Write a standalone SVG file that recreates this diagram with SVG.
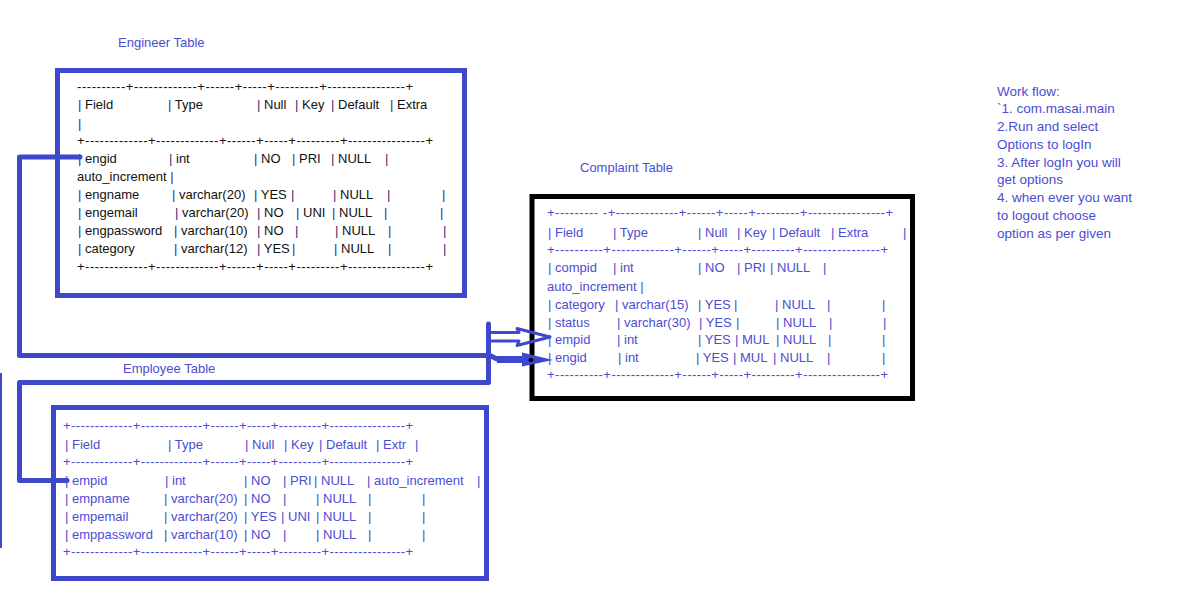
<svg xmlns="http://www.w3.org/2000/svg" width="1193" height="601" viewBox="0 0 1193 601">
  <style>
    .tb{font-family:"Liberation Sans",Arial,sans-serif;font-size:13px}
    .ttl{font-family:"Liberation Sans",Arial,sans-serif;font-size:13px;fill:#4b4dd2}
    .wf{font-family:"Liberation Sans",Arial,sans-serif;font-size:13.5px;fill:#4b4dd2}
    .blk{fill:#111}
    .pp{fill:#3b2378}
    .bl{fill:#4b4dd2}
    .frame{fill:none;stroke:#3f48cc;stroke-width:5}
    .frameK{fill:none;stroke:#000;stroke-width:5}
    .cn{fill:none;stroke:#3f48cc;stroke-width:5;stroke-linecap:round;stroke-linejoin:round}
  </style>
  <rect width="1193" height="601" fill="#fff"/>

  <!-- engineer table -->
  <g id="engineer">
    <text class="ttl" x="118" y="46.5">Engineer Table</text>
    <rect class="frame" x="57.5" y="70.5" width="407" height="225"/>
    <g class="tb blk">
      <text x="77" y="91" textLength="336" lengthAdjust="spacing">----------+-------------+------+-----+---------+----------------+</text>
      <text y="108.5"><tspan x="78"><tspan class="pp">|</tspan> Field</tspan><tspan x="168"><tspan class="pp">|</tspan> Type</tspan><tspan x="257"><tspan class="pp">|</tspan> Null </tspan><tspan x="295"><tspan class="pp">|</tspan> Key </tspan><tspan x="331"><tspan class="pp">|</tspan> Default </tspan><tspan x="390"><tspan class="pp">|</tspan> Extra</tspan></text>
      <text x="78" y="127.5" class="pp">|</text>
      <text x="77" y="144.5" textLength="356" lengthAdjust="spacing">+-------------+-------------+------+-----+---------+----------------+</text>
      <text y="162.5"><tspan x="78"><tspan class="pp">|</tspan> engid</tspan><tspan x="169"><tspan class="pp">|</tspan> int</tspan><tspan x="254"><tspan class="pp">|</tspan> NO</tspan><tspan x="292"><tspan class="pp">|</tspan> PRI</tspan><tspan x="331"><tspan class="pp">|</tspan> NULL</tspan><tspan x="385" class="pp">|</tspan></text>
      <text y="181"><tspan x="77">auto_increment </tspan><tspan class="pp">|</tspan></text>
      <text y="199"><tspan x="78"><tspan class="pp">|</tspan> engname</tspan><tspan x="172"><tspan class="pp">|</tspan> varchar(20)</tspan><tspan x="254"><tspan class="pp">|</tspan> YES</tspan><tspan x="291" class="pp">|</tspan><tspan x="333"><tspan class="pp">|</tspan> NULL</tspan><tspan x="387" class="pp">|</tspan><tspan x="442" class="pp">|</tspan></text>
      <text y="217"><tspan x="78"><tspan class="pp">|</tspan> engemail</tspan><tspan x="175"><tspan class="pp">|</tspan> varchar(20)</tspan><tspan x="257"><tspan class="pp">|</tspan> NO</tspan><tspan x="296"><tspan class="pp">|</tspan> UNI</tspan><tspan x="332"><tspan class="pp">|</tspan> NULL</tspan><tspan x="384" class="pp">|</tspan><tspan x="440" class="pp">|</tspan></text>
      <text y="235"><tspan x="78"><tspan class="pp">|</tspan> engpassword</tspan><tspan x="174"><tspan class="pp">|</tspan> varchar(10)</tspan><tspan x="257"><tspan class="pp">|</tspan> NO</tspan><tspan x="295" class="pp">|</tspan><tspan x="335"><tspan class="pp">|</tspan> NULL</tspan><tspan x="388" class="pp">|</tspan><tspan x="443" class="pp">|</tspan></text>
      <text y="253"><tspan x="78"><tspan class="pp">|</tspan> category</tspan><tspan x="174"><tspan class="pp">|</tspan> varchar(12)</tspan><tspan x="257"><tspan class="pp">|</tspan> YES</tspan><tspan x="292" class="pp">|</tspan><tspan x="334"><tspan class="pp">|</tspan> NULL</tspan><tspan x="388" class="pp">|</tspan><tspan x="443" class="pp">|</tspan></text>
      <text x="77" y="271" textLength="356" lengthAdjust="spacing">+-------------+-------------+------+-----+---------+----------------+</text>
    </g>
  </g>

  <!-- complaint table -->
  <g id="complaint">
    <text class="ttl" x="580" y="171.5">Complaint Table</text>
    <rect class="frameK" x="532" y="196.5" width="380.5" height="202"/>
    <g class="tb bl">
      <text x="547" y="217" textLength="346" lengthAdjust="spacing">+---------  -+-------------+------+-----+---------+----------------+</text>
      <text y="236.5"><tspan x="548">| Field</tspan><tspan x="613">| Type</tspan><tspan x="698">| Null</tspan><tspan x="737">| Key</tspan><tspan x="772">| Default</tspan><tspan x="831">| Extra</tspan><tspan x="903">|</tspan></text>
      <text x="547" y="254" textLength="341" lengthAdjust="spacing">+----------+-------------+------+-----+---------+----------------+</text>
      <text y="271.5"><tspan x="548">| compid</tspan><tspan x="613">| int</tspan><tspan x="698">| NO</tspan><tspan x="737">| PRI</tspan><tspan x="770">| NULL</tspan><tspan x="823">|</tspan></text>
      <text x="547" y="290.5">auto_increment |</text>
      <text y="308.5"><tspan x="548">| category</tspan><tspan x="615">| varchar(15)</tspan><tspan x="698">| YES</tspan><tspan x="734">|</tspan><tspan x="775">| NULL</tspan><tspan x="827">|</tspan><tspan x="882">|</tspan></text>
      <text y="326.5"><tspan x="548">| status</tspan><tspan x="617">| varchar(30)</tspan><tspan x="699">| YES</tspan><tspan x="736">|</tspan><tspan x="776">| NULL</tspan><tspan x="829">|</tspan><tspan x="883">|</tspan></text>
      <text y="344"><tspan x="548">| empid</tspan><tspan x="617">| int</tspan><tspan x="698">| YES</tspan><tspan x="735">| MUL</tspan><tspan x="776">| NULL</tspan><tspan x="828">|</tspan><tspan x="882">|</tspan></text>
      <text y="362"><tspan x="548">| engid</tspan><tspan x="618">| int</tspan><tspan x="696">| YES</tspan><tspan x="733">| MUL</tspan><tspan x="773">| NULL</tspan><tspan x="827">|</tspan><tspan x="882">|</tspan></text>
      <text x="547" y="379" textLength="341" lengthAdjust="spacing">+----------+-------------+------+-----+---------+----------------+</text>
    </g>
  </g>

  <!-- employee table -->
  <g id="employee">
    <text class="ttl" x="123" y="372.5">Employee Table</text>
    <rect class="frame" x="53.5" y="407.5" width="433" height="171"/>
    <g class="tb bl">
      <text x="63" y="430" textLength="350" lengthAdjust="spacing">+-------------+-------------+------+-----+---------+----------------+</text>
      <text y="448.5"><tspan x="65">| Field</tspan><tspan x="168">| Type</tspan><tspan x="245">| Null</tspan><tspan x="284">| Key</tspan><tspan x="319">| Default</tspan><tspan x="376">| Extr</tspan><tspan x="415">|</tspan></text>
      <text x="63" y="466" textLength="350" lengthAdjust="spacing">+-------------+-------------+------+-----+---------+----------------+</text>
      <text y="484.5"><tspan x="65">| empid</tspan><tspan x="165">| int</tspan><tspan x="244">| NO</tspan><tspan x="283">| PRI</tspan><tspan x="314">| NULL</tspan><tspan x="367">| auto_increment</tspan><tspan x="477">|</tspan></text>
      <text y="503"><tspan x="65">| empname</tspan><tspan x="164">| varchar(20)</tspan><tspan x="244">| NO</tspan><tspan x="283">|</tspan><tspan x="316">| NULL</tspan><tspan x="368">|</tspan><tspan x="422">|</tspan></text>
      <text y="521"><tspan x="65">| empemail</tspan><tspan x="164">| varchar(20)</tspan><tspan x="244">| YES</tspan><tspan x="281">| UNI</tspan><tspan x="316">| NULL</tspan><tspan x="368">|</tspan><tspan x="422">|</tspan></text>
      <text y="539"><tspan x="65">| emppassword</tspan><tspan x="164">| varchar(10)</tspan><tspan x="244">| NO</tspan><tspan x="283">|</tspan><tspan x="316">| NULL</tspan><tspan x="368">|</tspan><tspan x="422">|</tspan></text>
      <text x="63" y="556" textLength="350" lengthAdjust="spacing">+-------------+-------------+------+-----+---------+----------------+</text>
    </g>
  </g>

  <!-- work flow notes -->
  <g id="workflow">
    <text class="wf" x="997" y="95.5">Work flow:</text>
    <text class="wf" x="997" y="113.25">`1. com.masai.main</text>
    <text class="wf" x="997" y="131">2.Run and select</text>
    <text class="wf" x="997" y="148.75">Options to logIn</text>
    <text class="wf" x="997" y="166.5">3. After logIn you will</text>
    <text class="wf" x="997" y="184.25">get options</text>
    <text class="wf" x="997" y="202">4. when ever you want</text>
    <text class="wf" x="997" y="219.75">to logout choose</text>
    <text class="wf" x="997" y="237.5">option as per given</text>
  </g>

  <!-- foreign key connectors -->
  <g id="connectors">
    <!-- engineer.engid -> complaint.engid -->
    <polyline class="cn" points="80,157 19.5,157 19.5,355.5 490,355.5 497,359"/>
    <line x1="497" y1="359.5" x2="525" y2="359.5" stroke="#3f48cc" stroke-width="7"/>
    <polygon points="522,352.5 553,360 522,366.5" fill="#3f48cc"/>
    <ellipse cx="531" cy="360" rx="2.5" ry="2" fill="#000"/>
    <!-- employee.empid -> complaint.empid -->
    <polyline class="cn" points="67,480.5 19.5,480.5 19.5,382.5 488.5,382.5 488.5,324"/>
    <path d="M489,332.5 H519 L517,328.5 L550,337 L517,345.5 L519,341 H489" fill="none" stroke="#3f48cc" stroke-width="3" stroke-linejoin="round"/>
    <line x1="1" y1="373" x2="1" y2="548" stroke="#3f48cc" stroke-width="2"/>
  </g>
</svg>
